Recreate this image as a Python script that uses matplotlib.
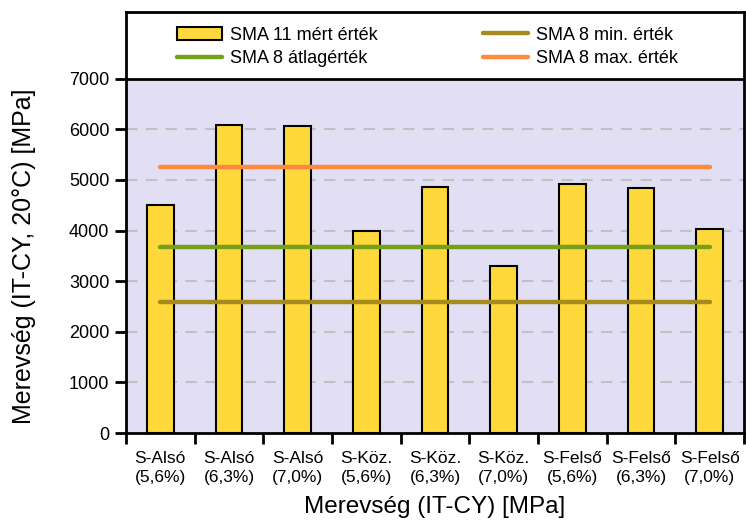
import matplotlib.pyplot as plt
import numpy as np

plt.rcParams['font.family'] = ['Liberation Sans', 'DejaVu Sans']

# --- Adatok ---
categories = ['S-Alsó\n(5,6%)', 'S-Alsó\n(6,3%)', 'S-Alsó\n(7,0%)',
              'S-Köz.\n(5,6%)', 'S-Köz.\n(6,3%)', 'S-Köz.\n(7,0%)',
              'S-Felső\n(5,6%)', 'S-Felső\n(6,3%)', 'S-Felső\n(7,0%)']
sma11 = [4510, 6080, 6065, 3990, 4860, 3300, 4930, 4840, 4030]
sma8_min = 2580
sma8_avg = 3680
sma8_max = 5250
yticks = [0, 1000, 2000, 3000, 4000, 5000, 6000, 7000]

fig = plt.figure(figsize=(7.46, 5.21), dpi=100)
ax = fig.add_axes([126/746, 88/521, (744-126)/746, (509-88)/521])
ytop = 8320

x = np.arange(len(categories)) + 0.5
ax.axhspan(0, 7000, color='#E2DFF4', zorder=0)
for v in yticks[1:-1]:
    ax.axhline(v, color='#C2C0C4', lw=1.5, ls=(0, (5.5, 4)), zorder=1)
ax.axhline(7000, color='black', lw=2, zorder=5)

b = ax.bar(x, sma11, width=0.39, color='#FFD93B', edgecolor='black', lw=1.5,
           zorder=2)
l_avg, = ax.plot([x[0], x[-1]], [sma8_avg]*2, color='#77A01A', lw=3.2,
                 solid_capstyle='round', zorder=3)
l_min, = ax.plot([x[0], x[-1]], [sma8_min]*2, color='#A88B1E', lw=3.2,
                 solid_capstyle='round', zorder=3)
l_max, = ax.plot([x[0], x[-1]], [sma8_max]*2, color='#FF8A3D', lw=3.2,
                 solid_capstyle='round', zorder=3)

ax.set_xlim(0, len(categories))
ax.set_ylim(0, ytop)
ax.set_yticks(yticks)
ax.set_yticklabels([str(v) for v in yticks], fontsize=13)
ax.set_xticks(np.arange(len(categories) + 1))
ax.set_xticklabels([])
ax.set_xticks(x, minor=True)
ax.set_xticklabels(categories, minor=True, fontsize=12.5, linespacing=1.3)
ax.tick_params(axis='x', which='minor', length=0, pad=13)
ax.tick_params(axis='both', which='major', direction='out', length=8, width=2, pad=4)
for s in ax.spines.values():
    s.set_linewidth(2)

# y felirat a lila (0-7000) tartomány közepére
ax.set_ylabel('Merevség (IT-CY, 20°C) [MPa]', fontsize=18)
ax.yaxis.set_label_coords(-0.146, 3500 / ytop)
ax.set_xlabel('Merevség (IT-CY) [MPa]', fontsize=17.5, labelpad=8)

ax.legend([b, l_avg, l_min, l_max],
          ['SMA 11 mért érték', 'SMA 8 átlagérték', 'SMA 8 min. érték', 'SMA 8 max. érték'],
          ncol=2, loc='center left', bbox_to_anchor=(0.0704, 0.917), frameon=False,
          fontsize=13, handlelength=2.5, handleheight=0.75, handletextpad=0.47,
          columnspacing=5.8, labelspacing=0.36, borderaxespad=0)

plt.savefig('out.png', dpi=100)
